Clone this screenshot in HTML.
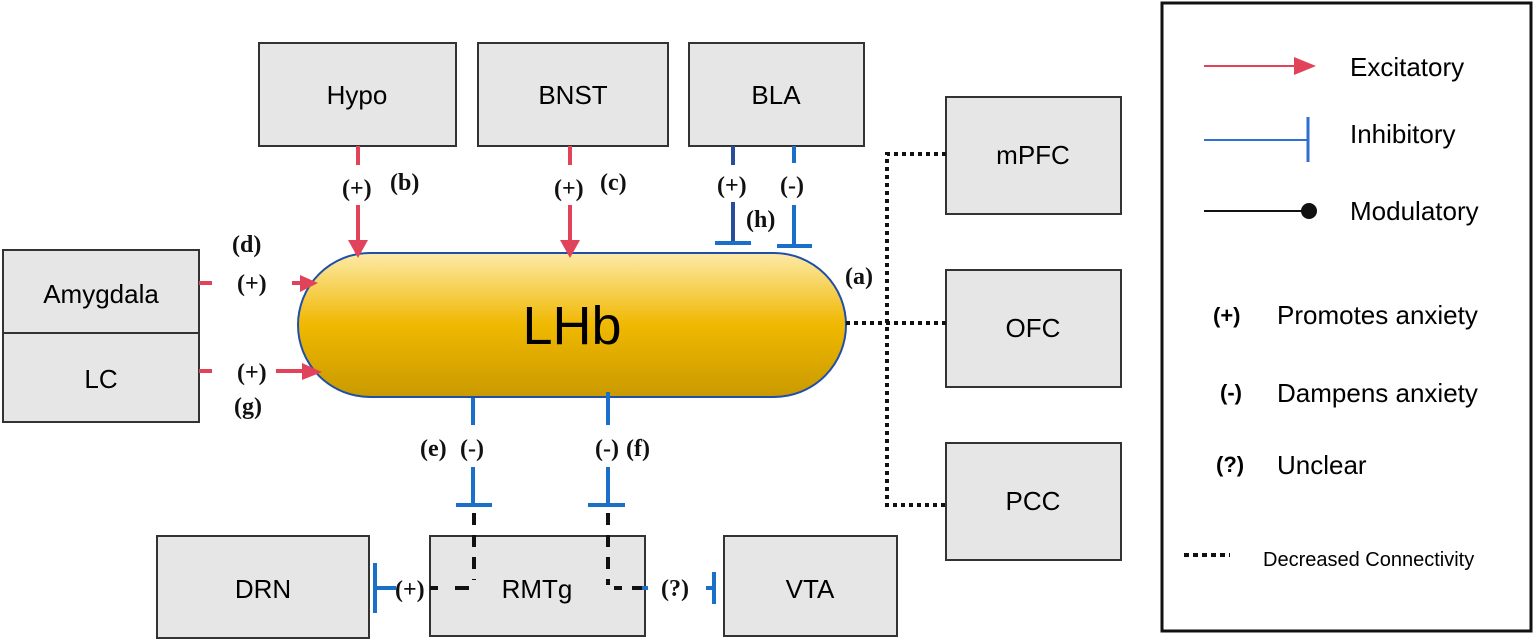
<!DOCTYPE html>
<html><head><meta charset="utf-8"><style>
html,body{margin:0;padding:0;background:#fff;}
svg{display:block;}
.box{fill:#e6e6e6;stroke:#333;stroke-width:2;}
.t{font-family:"Liberation Sans",sans-serif;fill:#000;}
.s{font-family:"Liberation Serif",serif;font-weight:bold;fill:#111;}
</style></head><body>
<svg width="1535" height="642" viewBox="0 0 1535 642" xmlns="http://www.w3.org/2000/svg">
<defs>
<linearGradient id="g" x1="0" y1="0" x2="0" y2="1">
<stop offset="0" stop-color="#fdeaa8"/><stop offset="0.5" stop-color="#f0b800"/><stop offset="1" stop-color="#c99a00"/>
</linearGradient>
</defs>
<rect class="box" x="259" y="43" width="197" height="103"/>
<text class="t" x="357" y="104" font-size="26" text-anchor="middle">Hypo</text>
<rect class="box" x="478" y="43" width="190" height="103"/>
<text class="t" x="573" y="104" font-size="26" text-anchor="middle">BNST</text>
<rect class="box" x="689" y="43" width="175" height="103"/>
<text class="t" x="776" y="104" font-size="26" text-anchor="middle">BLA</text>
<rect class="box" x="946" y="97" width="175" height="117"/>
<text class="t" x="1033" y="164" font-size="26" text-anchor="middle">mPFC</text>
<rect class="box" x="946" y="270" width="175" height="117"/>
<text class="t" x="1033" y="337" font-size="26" text-anchor="middle">OFC</text>
<rect class="box" x="946" y="443" width="175" height="117"/>
<text class="t" x="1033" y="510" font-size="26" text-anchor="middle">PCC</text>
<rect class="box" x="3" y="250" width="196" height="83"/>
<text class="t" x="101" y="303" font-size="26" text-anchor="middle">Amygdala</text>
<rect class="box" x="3" y="333" width="196" height="89"/>
<text class="t" x="101" y="388" font-size="26" text-anchor="middle">LC</text>
<rect class="box" x="157" y="536" width="212" height="102"/>
<text class="t" x="263" y="598" font-size="26" text-anchor="middle">DRN</text>
<rect class="box" x="430" y="536" width="215" height="100"/>
<text class="t" x="537" y="598" font-size="26" text-anchor="middle">RMTg</text>
<rect class="box" x="724" y="536" width="173" height="100"/>
<text class="t" x="810" y="598" font-size="26" text-anchor="middle">VTA</text>
<rect x="298" y="253" width="548" height="144" rx="72" ry="72" fill="url(#g)" stroke="#1f4fa8" stroke-width="2"/>
<text class="t" x="572" y="344" font-size="54" text-anchor="middle">LHb</text>
<g stroke="#e0435a" stroke-width="4" fill="none">
<line x1="358" y1="146" x2="358" y2="165"/><line x1="358" y1="205" x2="358" y2="240"/>
<line x1="570" y1="146" x2="570" y2="165"/><line x1="570" y1="205" x2="570" y2="240"/>
<line x1="199" y1="283" x2="212" y2="283"/><line x1="292" y1="283" x2="302" y2="283"/>
<line x1="199" y1="371" x2="212" y2="371"/><line x1="276" y1="371" x2="305" y2="371"/>
</g>
<g fill="#e0435a">
<polygon points="348,240 368,240 358,258"/>
<polygon points="560,240 580,240 570,258"/>
<polygon points="300,275 300,292 318,283"/>
<polygon points="302,363 302,380 322,372"/>
</g>
<g stroke="#1a6fc9" stroke-width="4" fill="none">
<line x1="733" y1="146" x2="733" y2="165" stroke="#2a4c9c"/><line x1="733" y1="202" x2="733" y2="243" stroke="#2a4c9c"/>
<line x1="715" y1="243" x2="751" y2="243"/>
<line x1="794" y1="146" x2="794" y2="163"/><line x1="794" y1="205" x2="794" y2="246"/>
<line x1="777" y1="246" x2="812" y2="246"/>
<line x1="473" y1="398" x2="473" y2="425"/><line x1="473" y1="467" x2="473" y2="505"/>
<line x1="456" y1="505" x2="492" y2="505"/>
<line x1="608" y1="392" x2="608" y2="425"/><line x1="608" y1="467" x2="608" y2="505"/>
<line x1="588" y1="505" x2="625" y2="505"/>
<line x1="375" y1="563" x2="375" y2="613"/><line x1="375" y1="588" x2="396" y2="588"/>
<line x1="714" y1="572" x2="714" y2="604"/><line x1="706" y1="588" x2="714" y2="588"/>
<line x1="642" y1="588" x2="648" y2="588"/>
</g>
<g stroke="#111" stroke-width="4" fill="none" stroke-dasharray="12,10">
<line x1="474" y1="513" x2="474" y2="580"/>
<line x1="608" y1="513" x2="608" y2="585"/>
</g>
<g stroke="#111" stroke-width="4" fill="none">
<line x1="430" y1="588" x2="438" y2="588"/><line x1="455" y1="588" x2="469" y2="588"/>
<line x1="614" y1="588" x2="622" y2="588"/><line x1="632" y1="588" x2="642" y2="588"/>
</g>
<g stroke="#111" stroke-width="4" fill="none" stroke-dasharray="4,4">
<polyline points="946,154 887,154 887,505 946,505"/>
<line x1="846" y1="323" x2="946" y2="323"/>
</g>
<g class="s" font-size="24">
<text x="342" y="196">(+)</text><text x="390" y="190">(b)</text>
<text x="554" y="196">(+)</text><text x="600" y="190">(c)</text>
<text x="717" y="193">(+)</text><text x="780" y="193">(-)</text><text x="746" y="227">(h)</text>
<text x="845" y="284">(a)</text>
<text x="232" y="252">(d)</text><text x="237" y="291">(+)</text>
<text x="237" y="380">(+)</text><text x="234" y="414">(g)</text>
<text x="420" y="456">(e)</text><text x="460" y="456">(-)</text>
<text x="595" y="456">(-)</text><text x="626" y="456">(f)</text>
<text x="395" y="597">(+)</text><text x="661" y="596">(?)</text>
</g>
<rect x="1162" y="3" width="369" height="628" fill="#fff" stroke="#111" stroke-width="3"/>
<line x1="1204" y1="66" x2="1296" y2="66" stroke="#e0435a" stroke-width="2"/>
<polygon points="1294,57 1294,75 1316,66" fill="#e0435a"/>
<text class="t" x="1350" y="76" font-size="26">Excitatory</text>
<line x1="1204" y1="140" x2="1308" y2="140" stroke="#2f6fd0" stroke-width="2"/>
<line x1="1308" y1="117" x2="1308" y2="162" stroke="#2f6fd0" stroke-width="3"/>
<text class="t" x="1350" y="143" font-size="26">Inhibitory</text>
<line x1="1204" y1="211" x2="1305" y2="211" stroke="#111" stroke-width="2"/>
<circle cx="1309" cy="211" r="8" fill="#111"/>
<text class="t" x="1350" y="220" font-size="26">Modulatory</text>
<text class="t" x="1213" y="323" font-size="22" font-weight="bold">(+)</text>
<text class="t" x="1277" y="324" font-size="26">Promotes anxiety</text>
<text class="t" x="1220" y="400" font-size="22" font-weight="bold">(-)</text>
<text class="t" x="1277" y="402" font-size="26">Dampens anxiety</text>
<text class="t" x="1216" y="472" font-size="22" font-weight="bold">(?)</text>
<text class="t" x="1277" y="474" font-size="26">Unclear</text>
<line x1="1184" y1="555" x2="1230" y2="555" stroke="#111" stroke-width="4" stroke-dasharray="5,4"/>
<text class="t" x="1263" y="566" font-size="20">Decreased Connectivity</text>
</svg>
</body></html>
